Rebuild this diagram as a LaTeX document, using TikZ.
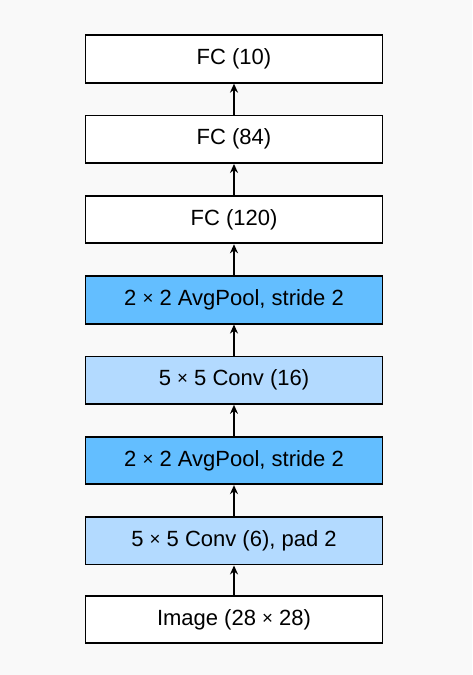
\documentclass[tikz,border=0pt]{standalone}
\usepackage{fontspec}
\setmainfont{Liberation Sans}
\usetikzlibrary{arrows.meta}
\definecolor{bgc}{HTML}{F9F9F9}
\definecolor{poolc}{HTML}{63BEFF}
\definecolor{convc}{HTML}{B3DAFF}
\newcommand{\tms}{\raisebox{0.05em}{\scalebox{0.85}{×}}}
\begin{document}
\begin{tikzpicture}[x=1pt,y=-1pt,
  layer/.style={draw=black, line width=1.8pt, fill=white, minimum width=297pt, minimum height=47.5pt, inner sep=0pt, font=\fontsize{22}{26}\selectfont},
  pool/.style={layer, fill=poolc},
  conv/.style={layer, fill=convc},
  flow/.style={-{Stealth[length=9pt,width=8pt]}, line width=1.8pt}]
\fill[bgc] (0,0) rectangle (472,675);
\useasboundingbox (0,0) rectangle (472,675);
\node[layer] (fc3) at (234,59) {FC (10)};
\node[layer] (fc2) at (234,139.3) {FC (84)};
\node[layer] (fc1) at (234,219.6) {FC (120)};
\node[pool] (p2) at (234,299.9) {2 \tms{} 2 AvgPool, stride 2};
\node[conv] (c2) at (234,380.2) {5 \tms{} 5 Conv (16)};
\node[pool] (p1) at (234,460.5) {2 \tms{} 2 AvgPool, stride 2};
\node[conv] (c1) at (234,540.8) {5 \tms{} 5 Conv (6), pad 2};
\node[layer] (img) at (234,619.5) {Image (28 \tms{} 28)};
\draw[flow] (img) -- (c1);
\draw[flow] (c1) -- (p1);
\draw[flow] (p1) -- (c2);
\draw[flow] (c2) -- (p2);
\draw[flow] (p2) -- (fc1);
\draw[flow] (fc1) -- (fc2);
\draw[flow] (fc2) -- (fc3);
\end{tikzpicture}
\end{document}
